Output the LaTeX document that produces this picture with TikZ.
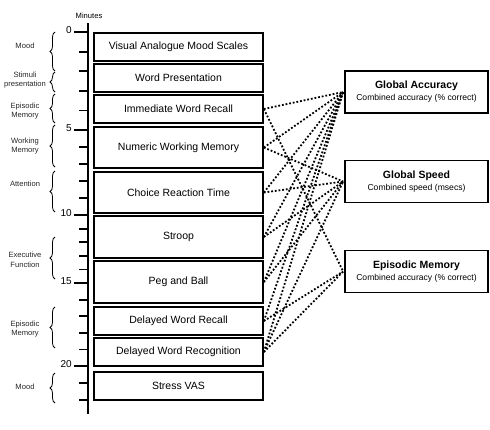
\documentclass[tikz,border=0pt]{standalone}
\usepackage{fontspec}
\setmainfont{Liberation Sans}
\usepackage{tikz}
\usetikzlibrary{decorations.pathreplacing}

\begin{document}
\begin{tikzpicture}[
    x=1pt, y=-1pt,
    every node/.style = {align=center},
    task/.style   = {draw, rectangle, line width=1.7pt, minimum width=169pt,
                     font=\fontsize{10.5}{12}\selectfont, inner sep=1pt},
    score/.style  = {draw, rectangle, line width=1.7pt, minimum width=143pt,
                     minimum height=42pt, inner sep=1pt},
    link/.style   = {line width=1.8pt, dash pattern=on 1.8pt off 1.9pt},
    tickline/.style = {line width=1.8pt},
    minlbl/.style = {font=\fontsize{10}{12}\selectfont, anchor=east, inner sep=1pt},
    bracket/.style = {decorate, decoration={brace, amplitude=5pt}, line width=0.8pt},
    dlabel/.style = {font=\fontsize{7.6}{9.5}\selectfont, text=black!85},
]
\useasboundingbox (0,0) rectangle (490,429);

% ---------------- Time axis ----------------
\node[font=\fontsize{7.6}{9}\selectfont] (minutes) at (89,16) {Minutes};
\coordinate (axtop) at (88,23);
\coordinate (axbot) at (88,414);
\draw[line width=2pt] (axtop) -- (axbot);
\foreach \y/\m in {32/0, 130/5, 215/10, 283/15, 366/20}{
  \draw[tickline] (74,\y) -- (88,\y);
  \node[minlbl] at (73,\y-2) {\m};
}
\foreach \y in {51.6,71.2,90.8,110.4,147,164,181,198,228.6,242.2,255.8,269.4,
                299.6,316.2,332.8,349.4,383,400}
  \draw[tickline] (79,\y) -- (88,\y);

% ---------------- Domains ----------------
\foreach \top/\bot/\ly/\txt in {32/71/46/Mood, 72/92/80/Stimuli\\presentation,
    94/123/111/Episodic\\Memory, 125/167/146/Working\\Memory, 171/212/184/Attention,
    237/279/260/Executive\\Function, 307/348/329/Episodic\\Memory, 373/403/387/Mood}{
  \draw[bracket] (55,\bot) -- (55,\top);
  \node[dlabel] at (25,\ly) {\txt};
}

% ---------------- Tasks ----------------
\node[task, minimum height=28pt] (vams)   at (178.5,47)    {Visual Analogue Mood Scales};
\node[task, minimum height=28pt] (words)  at (178.5,78)    {Word Presentation};
\node[task, minimum height=28pt] (iwr)    at (178.5,109)   {Immediate Word Recall};
\node[task, minimum height=41pt] (nwm)    at (178.5,147.5) {Numeric Working Memory};
\node[task, minimum height=41pt] (crt)    at (178.5,192.5) {Choice Reaction Time};
\node[task, minimum height=42pt] (stroop) at (178.5,237)   {Stroop};
\node[task, minimum height=42pt] (peg)    at (178.5,282)   {Peg and Ball};
\node[task, minimum height=28pt] (dwr)    at (178.5,321)   {Delayed Word Recall};
\node[task, minimum height=28pt] (dwrec)  at (178.5,352)   {Delayed Word Recognition};
\node[task, minimum height=28pt] (svas)   at (178.5,386)   {Stress VAS};

% ---------------- Composite scores ----------------
\node[score] (acc)  at (416.5,92)  {{\fontsize{10.5}{13}\selectfont\bfseries Global Accuracy}\\
                                    {\fontsize{8.6}{11}\selectfont Combined accuracy (\% correct)}};
\node[score] (spd)  at (416.5,181.5) {{\fontsize{10.5}{13}\selectfont\bfseries Global Speed}\\
                                    {\fontsize{8.6}{11}\selectfont Combined speed (msecs)}};
\node[score] (epi)  at (416.5,271.5) {{\fontsize{10.5}{13}\selectfont\bfseries Episodic Memory}\\
                                    {\fontsize{8.6}{11}\selectfont Combined accuracy (\% correct)}};

% ---------------- Links ----------------
\foreach \a/\b in {iwr/acc, nwm/acc, crt/acc, stroop/acc, peg/acc, dwr/acc, dwrec/acc,
                   nwm/spd, crt/spd, stroop/spd, peg/spd, dwrec/spd,
                   iwr/epi, dwr/epi, dwrec/epi}
  \draw[link] (\a.east) -- ([xshift=-1pt]\b.west);

\end{tikzpicture}
\end{document}
